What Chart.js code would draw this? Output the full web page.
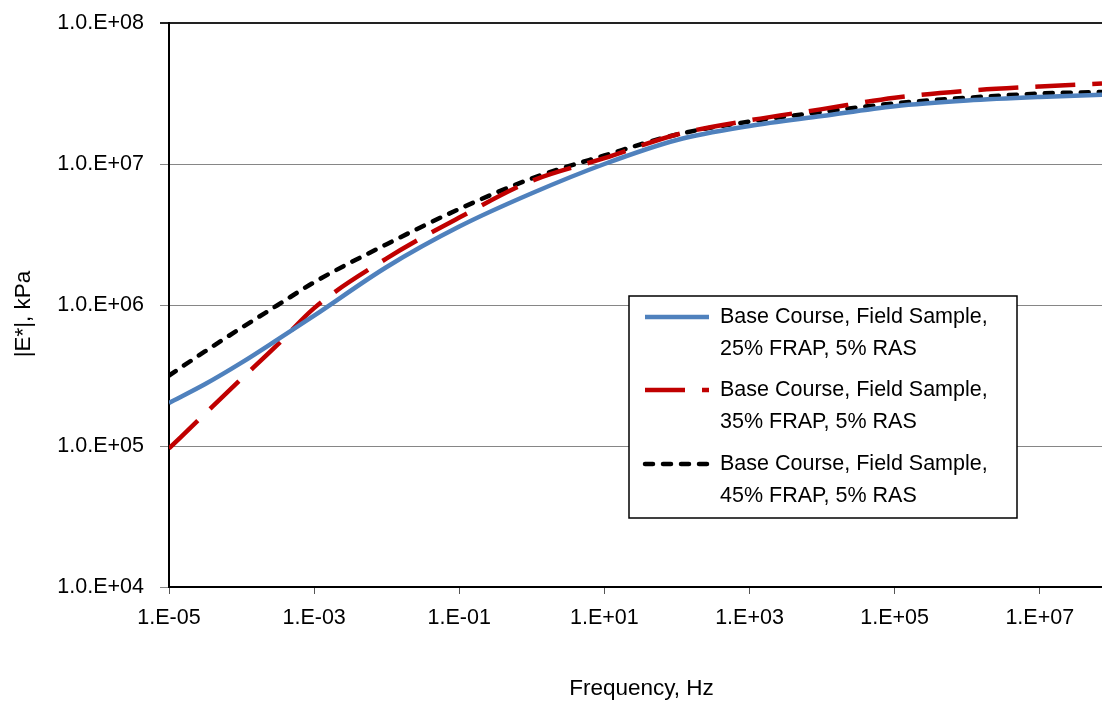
<!DOCTYPE html>
<html>
<head>
<meta charset="utf-8">
<script src="https://cdn.jsdelivr.net/npm/chart.js@4/dist/chart.umd.min.js"></script>
<style>
	html, body { margin: 0; padding: 0; background: #fff; }
	#wrap { width: 1102px; height: 704px; }
</style>
</head>
<body>
<div id="wrap"><canvas id="myChart" width="1102" height="704"></canvas></div>
<script>
// frequency points, Hz
const freqHz = [1e-5, 3.16e-5, 1e-4, 3.16e-4, 1e-3, 1e-2, 1e-1, 1, 10, 100, 1e3, 1e4, 1e5, 1e6, 1e7, 7.2e7];

// |E*| values, kPa
const base25 = [2.02e5, 2.75e5, 3.9e5, 5.7e5, 8.4e5, 1.86e6, 3.6e6, 6.2e6, 1.0e7, 1.48e7, 1.86e7, 2.19e7, 2.57e7, 2.82e7, 2.99e7, 3.1e7];
const base35 = [9.6e4, 1.7e5, 3.0e5, 5.25e5, 9.5e5, 2.14e6, 4.17e6, 7.6e6, 1.1e7, 1.62e7, 2.04e7, 2.45e7, 2.95e7, 3.31e7, 3.55e7, 3.72e7];
const base45 = [3.16e5, 4.7e5, 6.9e5, 1.0e6, 1.45e6, 2.7e6, 4.8e6, 7.9e6, 1.15e7, 1.62e7, 2.0e7, 2.34e7, 2.69e7, 2.95e7, 3.16e7, 3.24e7];

const seriesLabels = [
	["Base Course, Field Sample,", "25% FRAP, 5% RAS"],
	["Base Course, Field Sample,", "35% FRAP, 5% RAS"],
	["Base Course, Field Sample,", "45% FRAP, 5% RAS"]
];

const xTickValues = [1e-5, 1e-3, 1e-1, 1e1, 1e3, 1e5, 1e7];
const yTickValues = [1e4, 1e5, 1e6, 1e7, 1e8];

const FONT = "'Liberation Sans', Arial, sans-serif";

function toPoints(vals) {
	return freqHz.map((f, i) => ({ x: f, y: vals[i] }));
}

function expLabel(v, mant) {
	const e = Math.round(Math.log10(v));
	const sign = e < 0 ? "-" : "+";
	const d = String(Math.abs(e)).padStart(2, "0");
	return mant + ".E" + sign + d;
}

// legend box and axis titles
const extras = {
	id: "extras",
	afterDraw(chart) {
		const ctx = chart.ctx;
		const area = chart.chartArea;
		ctx.save();
		ctx.fillStyle = "#000";
		ctx.font = "22.5px " + FONT;
		ctx.textAlign = "center";
		ctx.textBaseline = "middle";
		ctx.fillText("Frequency, Hz", (area.left + area.right) / 2 + 6, 689);
		ctx.translate(24, 314);
		ctx.rotate(-Math.PI / 2);
		ctx.fillText("|E*|, kPa", 0, 0);
		ctx.restore();

		// legend
		const bx = 629, by = 296, bw = 388, bh = 222;
		ctx.save();
		ctx.fillStyle = "#fff";
		ctx.fillRect(bx, by, bw, bh);
		ctx.strokeStyle = "#000";
		ctx.lineWidth = 1.5;
		ctx.strokeRect(bx, by, bw, bh);
		const rows = [317, 390, 464];
		chart.data.datasets.forEach((ds, i) => {
			const y = rows[i];
			ctx.beginPath();
			ctx.strokeStyle = ds.borderColor;
			ctx.lineWidth = ds.borderWidth;
			ctx.lineCap = ds.borderCapStyle || "butt";
			ctx.setLineDash(ds.borderDash || []);
			ctx.moveTo(645, y);
			ctx.lineTo(709, y);
			ctx.stroke();
			ctx.setLineDash([]);
			ctx.fillStyle = "#000";
			ctx.font = "21.5px " + FONT;
			ctx.textAlign = "left";
			ctx.textBaseline = "middle";
			seriesLabels[i].forEach((t, j) => ctx.fillText(t, 720, y + j * 32));
		});
		ctx.restore();
	}
};

new Chart(document.getElementById("myChart"), {
	type: "line",
	data: {
		datasets: [
			{
				label: seriesLabels[0].join(" "),
				data: toPoints(base25),
				borderColor: "#4F81BD",
				borderWidth: 4.5,
				pointRadius: 0,
				cubicInterpolationMode: "monotone"
			},
			{
				label: seriesLabels[1].join(" "),
				data: toPoints(base35),
				borderColor: "#C00000",
				borderWidth: 4.5,
				borderDash: [40, 17],
				pointRadius: 0,
				cubicInterpolationMode: "monotone"
			},
			{
				label: seriesLabels[2].join(" "),
				data: toPoints(base45),
				borderColor: "#000000",
				borderWidth: 4.5,
				borderDash: [8, 10],
				borderCapStyle: "round",
				pointRadius: 0,
				cubicInterpolationMode: "monotone"
			}
		]
	},
	options: {
		responsive: false,
		animation: false,
		layout: { padding: { top: 23, right: 0, left: 0, bottom: 0 } },
		scales: {
			x: {
				type: "logarithmic",
				min: 1e-5,
				max: 7.2e7,
				afterBuildTicks: s => { s.ticks = xTickValues.map(v => ({ value: v })); },
				afterFit: s => { s.height = 117; s.paddingLeft = 0; s.paddingRight = 0; },
				ticks: {
					autoSkip: false,
					maxRotation: 0,
					padding: 11,
					color: "#000",
					font: { family: FONT, size: 21.5 },
					callback: v => expLabel(v, "1")
				},
				grid: { drawOnChartArea: false, drawTicks: true, tickLength: 7, color: "#555" },
				border: { color: "#000", width: 2 }
			},
			y: {
				type: "logarithmic",
				min: 1e4,
				max: 1e8,
				afterBuildTicks: s => { s.ticks = yTickValues.map(v => ({ value: v })); },
				afterFit: s => { s.width = 169; s.paddingTop = 0; s.paddingBottom = 0; },
				ticks: {
					padding: 16,
					color: "#000",
					font: { family: FONT, size: 21.5 },
					callback: v => expLabel(v, "1.0")
				},
				grid: {
					tickLength: 9,
					color: c => (c.tick && c.tick.value === 1e8 ? "#222" : "#868686"),
					lineWidth: c => (c.tick && c.tick.value === 1e8 ? 2 : 1)
				},
				border: { color: "#000", width: 2 }
			}
		},
		plugins: {
			legend: { display: false },
			tooltip: { enabled: false }
		}
	},
	plugins: [extras]
});
</script>
</body>
</html>
